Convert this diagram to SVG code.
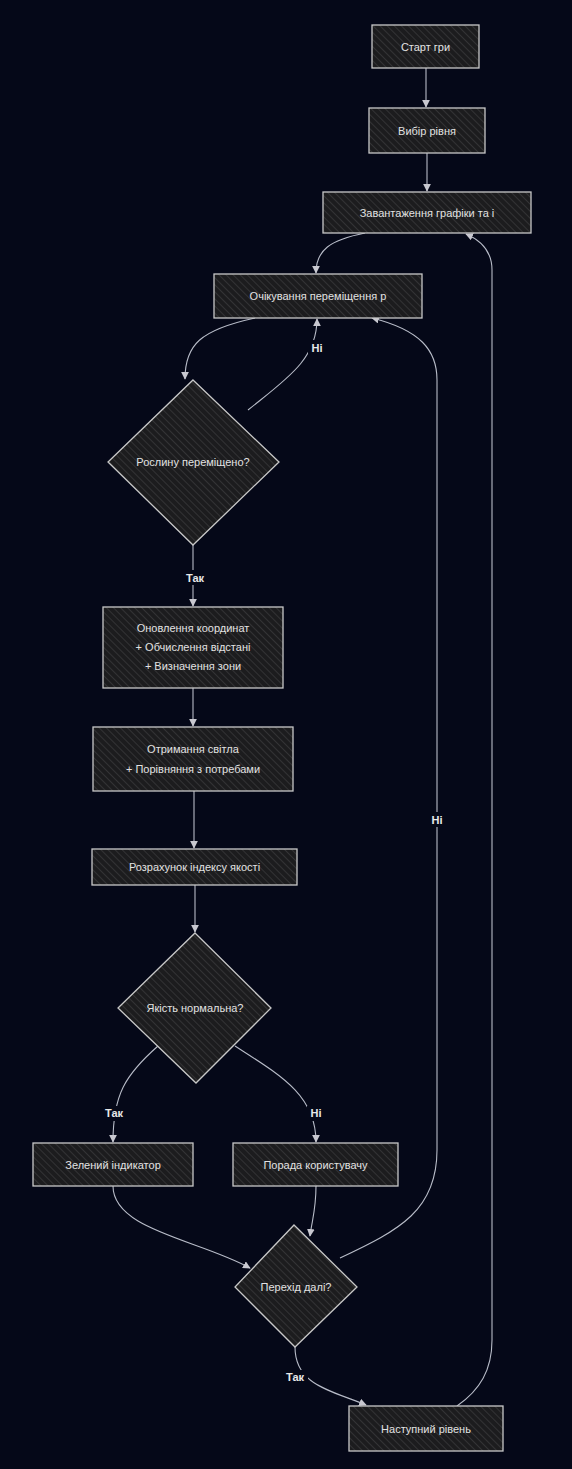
<svg xmlns="http://www.w3.org/2000/svg" width="572" height="1469" viewBox="0 0 572 1469">
<defs>
<pattern id="hatch" patternUnits="userSpaceOnUse" width="5" height="5" patternTransform="rotate(-45)">
<rect width="5" height="5" fill="#1c1c1e"/>
<line x1="0" y1="0" x2="0" y2="5" stroke="#3c3c3e" stroke-width="1.4"/>
</pattern>
<marker id="arr" viewBox="0 0 10 10" refX="9" refY="5" markerWidth="7" markerHeight="7" orient="auto-start-reverse">
<path d="M0,0 L10,5 L0,10 z" fill="#c8c8d0"/>
</marker>
</defs>
<style>
.bg{fill:#050818}
.node{fill:url(#hatch);stroke:#c8c8c8;stroke-width:1.3}
.t{font-family:"Liberation Sans",Arial,sans-serif;font-size:11px;fill:#e2e2e2;text-anchor:middle;dominant-baseline:central}
.e{fill:none;stroke:#b8bcc8;stroke-width:1.1;marker-end:url(#arr)}
.lb{fill:#050818}
.l{font-family:"Liberation Sans",Arial,sans-serif;font-size:11px;font-weight:bold;fill:#e8e8e8;text-anchor:middle;dominant-baseline:central}
</style>
<rect class="bg" x="0" y="0" width="572" height="1469"/>

<g id="edges">
<path class="e" d="M426,68 L426,107"/>
<path class="e" d="M427,153 L427,191"/>
<path class="e" d="M365,233 C330,240 316,250 316,273"/>
<path class="e" d="M457,1406 C480,1390 492,1370 492,1340 L492,270 C492,250 480,240 466,234"/>
<path class="e" d="M255,318 C200,330 185,345 185,379"/>
<path class="e" d="M248,410 C285,380 317,360 317,319"/>
<path class="e" d="M193,545 L193,606"/>
<path class="e" d="M193,688 L193,726"/>
<path class="e" d="M194,791 L194,848"/>
<path class="e" d="M195,885 L195,932"/>
<path class="e" d="M158,1046 C125,1075 113,1095 113,1142"/>
<path class="e" d="M235,1046 C280,1075 316,1095 316,1142"/>
<path class="e" d="M113,1186 C113,1230 200,1240 250,1268"/>
<path class="e" d="M316,1186 C316,1210 312,1220 310,1236"/>
<path class="e" d="M340,1258 C400,1230 437,1210 437,1150 L437,380 C437,350 420,330 372,318"/>
<path class="e" d="M295,1347 C295,1385 330,1390 366,1405"/>
</g>

<g id="edge-labels">
<rect class="lb" x="308" y="340" width="18" height="15"/><text class="l" x="317" y="348">Ні</text>
<rect class="lb" x="182" y="570" width="26" height="15"/><text class="l" x="195" y="578">Так</text>
<rect class="lb" x="101" y="1106" width="26" height="15"/><text class="l" x="114" y="1113">Так</text>
<rect class="lb" x="307" y="1106" width="18" height="15"/><text class="l" x="316" y="1113">Ні</text>
<rect class="lb" x="428" y="812" width="18" height="15"/><text class="l" x="437" y="820">Ні</text>
<rect class="lb" x="282" y="1370" width="26" height="15"/><text class="l" x="295" y="1377">Так</text>
</g>

<g id="start">
<rect class="node" x="372" y="25" width="107" height="43"/>
<text class="t" x="425.5" y="46.5">Старт гри</text>
</g>
<g id="level-select">
<rect class="node" x="369" y="108" width="116" height="45"/>
<text class="t" x="427" y="130.5">Вибір рівня</text>
</g>
<g id="loading">
<rect class="node" x="323" y="192" width="208" height="41"/>
<text class="t" x="427" y="212.5">Завантаження графіки та і</text>
</g>
<g id="waiting">
<rect class="node" x="214" y="274" width="208" height="44"/>
<text class="t" x="318" y="296">Очікування переміщення р</text>
</g>
<g id="moved">
<polygon class="node" points="193,380 279,462 193,545 108,462"/>
<text class="t" x="193" y="462">Рослину переміщено?</text>
</g>
<g id="update">
<rect class="node" x="103" y="607" width="180" height="81"/>
<text class="t" x="193" y="628">Оновлення координат</text>
<text class="t" x="193" y="647">+ Обчислення відстані</text>
<text class="t" x="193" y="666">+ Визначення зони</text>
</g>
<g id="light">
<rect class="node" x="93" y="727" width="200" height="64"/>
<text class="t" x="193" y="749">Отримання світла</text>
<text class="t" x="193" y="769">+ Порівняння з потребами</text>
</g>
<g id="index">
<rect class="node" x="92" y="849" width="205" height="36"/>
<text class="t" x="194.5" y="867">Розрахунок індексу якості</text>
</g>
<g id="quality">
<polygon class="node" points="195,933 271,1008 196,1083 118,1008"/>
<text class="t" x="195" y="1008">Якість нормальна?</text>
</g>
<g id="green">
<rect class="node" x="33" y="1143" width="160" height="43"/>
<text class="t" x="113" y="1164.5">Зелений індикатор</text>
</g>
<g id="advice">
<rect class="node" x="233" y="1143" width="165" height="43"/>
<text class="t" x="315.5" y="1164.5">Порада користувачу</text>
</g>
<g id="next-q">
<polygon class="node" points="294,1225 357,1287 295,1347 235,1287"/>
<text class="t" x="296" y="1287">Перехід далі?</text>
</g>
<g id="next-level">
<rect class="node" x="349" y="1406" width="154" height="45"/>
<text class="t" x="426" y="1428.5">Наступний рівень</text>
</g>
</svg>
